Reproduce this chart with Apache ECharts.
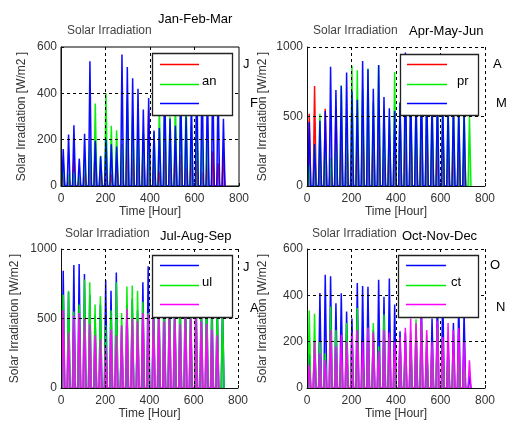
<!DOCTYPE html>
<html>
<head>
<meta charset="utf-8">
<script src="https://cdn.jsdelivr.net/npm/echarts@6/dist/echarts.min.js"></script>
<style>
  html, body { margin: 0; padding: 0; background: #fff; }
  #chart { width: 510px; height: 423px; }
</style>
</head>
<body>
<div id="chart"></div>
<script>
// Daily peak solar irradiation [W/m2], one value per day of each month
const jan = [60, 40, 134, 30, 50, 120, 184, 60, 90, 50, 100, 180, 200, 120, 140, 220, 330, 100, 60, 170, 120, 177, 134, 80, 150, 110, 60, 120, 150, 98, 140];
const feb = [100, 50, 60, 40, 120, 180, 356, 130, 400, 260, 241, 180, 370, 300, 270, 230, 200, 234, 340, 400, 300, 380, 420, 400, 260, 330, 240, 200];
const mar = [160, 222, 262, 118, 225, 538, 195, 128, 200, 180, 170, 568, 514, 465, 420, 330, 380, 240, 250, 470, 290, 260, 420, 300, 380, 490, 520, 450, 500, 430, 290];

const apr = [520, 720, 250, 555, 200, 550, 300, 420, 270, 350, 450, 300, 400, 500, 200, 350, 400, 550, 400, 500, 300, 450, 350, 400, 300, 450, 200, 350, 300, 250];
const may = [150, 300, 520, 260, 200, 300, 725, 500, 865, 833, 700, 845, 600, 868, 550, 500, 820, 600, 700, 650, 600, 580, 700, 600, 650, 550, 620, 580, 540, 600, 500];
const jun = [460, 302, 470, 540, 858, 690, 720, 817, 680, 620, 900, 840, 700, 870, 640, 560, 540, 600, 960, 700, 650, 800, 720, 620, 680, 600, 550, 620, 560, 520];

const jul = [844, 690, 884, 892, 820, 670, 520, 600, 776, 700, 830, 450, 600, 640, 560, 760, 875, 700, 650, 800, 720, 650, 700, 780, 600, 720, 680, 750, 700, 640, 620];
const aug = [670, 700, 550, 600, 780, 760, 600, 660, 450, 560, 760, 540, 730, 738, 700, 620, 540, 600, 700, 650, 700, 600, 650, 700, 620, 680, 600, 650, 560, 600, 560];
const sep = [560, 400, 520, 540, 500, 460, 380, 350, 300, 420, 380, 450, 570, 500, 480, 540, 530, 500, 540, 480, 520, 500, 460, 520, 500, 540, 480, 460, 420, 380];

const oct = [150, 200, 410, 489, 482, 366, 409, 330, 300, 453, 440, 437, 250, 467, 394, 473, 360, 245, 240, 200, 250, 380, 180, 300, 400, 420, 200, 280, 380, 330, 50];
const nov = [335, 320, 200, 150, 352, 250, 120, 280, 200, 345, 100, 260, 280, 180, 317, 220, 150, 200, 180, 240, 297, 273, 230, 180, 259, 200, 170, 140, 160, 100];
const dec = [100, 200, 150, 120, 250, 180, 230, 200, 240, 250, 200, 260, 240, 160, 250, 240, 200, 220, 260, 300, 280, 300, 250, 200, 290, 220, 280, 250, 260, 200, 120];

// Axis ranges
const hourMax = 800, hourStep = 200;
const irrMax = [600, 1000, 1000, 600];
const irrStep = [200, 500, 500, 200];
const quarterNames = ['Jan-Feb-Mar', 'Apr-May-Jun', 'Jul-Aug-Sep', 'Oct-Nov-Dec'];

// Hour offsets within a day: sunrise, noon peak, sunset
const SUNRISE = 4, NOON = 10, SUNSET = 17;

function hourly(peaks) {
  const pts = [];
  peaks.forEach((p, d) => {
    pts.push([24 * d + SUNRISE, 0], [24 * d + NOON, p], [24 * d + SUNSET, 0]);
  });
  return pts;
}

const FONT = "'Liberation Sans', Arial, Helvetica, sans-serif";
const RED = '#ff0000', GREEN = '#00ee00', BLUE = '#0000ff', MAGENTA = '#ff00ff';

const panels = [
  { grid: { left: 61, top: 47, width: 178, height: 139 }, months: [jan, feb, mar], colors: [RED, GREEN, BLUE], nameGap: 33, box: true },
  { grid: { left: 307, top: 47, width: 178, height: 139 }, months: [apr, may, jun], colors: [RED, GREEN, BLUE], nameGap: 38, box: false },
  { grid: { left: 61, top: 249, width: 177, height: 139 }, months: [jul, aug, sep], colors: [BLUE, GREEN, MAGENTA], nameGap: 40, box: false },
  { grid: { left: 307, top: 249, width: 178, height: 139 }, months: [oct, nov, dec], colors: [BLUE, GREEN, MAGENTA], nameGap: 38, box: false }
];

const gridDash = { color: '#000', width: 1, type: [3, 3] };

const grids = [], xAxes = [], yAxes = [], series = [];
panels.forEach((p, i) => {
  grids.push(Object.assign({
    show: p.box, borderColor: '#000', borderWidth: 1, backgroundColor: '#fff'
  }, p.grid));
  xAxes.push({
    type: 'value', gridIndex: i, min: 0, max: hourMax, interval: hourStep, z: 5,
    name: 'Time [Hour]', nameLocation: 'middle', nameGap: 20,
    nameTextStyle: { fontFamily: FONT, fontSize: 12, color: '#333' },
    axisLine: { show: true, onZero: false, lineStyle: { color: '#111', width: 1 } },
    axisTick: { show: true, inside: true, length: 3, lineStyle: { color: '#111' } },
    axisLabel: { fontFamily: FONT, fontSize: 12, color: '#333', margin: 7, formatter: v => String(v) },
    splitLine: { show: true, showMinLine: false, showMaxLine: !p.box, lineStyle: gridDash }
  });
  yAxes.push({
    type: 'value', gridIndex: i, min: 0, max: irrMax[i], interval: irrStep[i], z: 5,
    name: 'Solar Irradiation [W/m2 ]', nameLocation: 'middle', nameGap: p.nameGap,
    nameTextStyle: { fontFamily: FONT, fontSize: 12, color: '#333' },
    axisLine: { show: true, onZero: false, lineStyle: { color: '#111', width: 1 } },
    axisTick: { show: true, inside: true, length: 3, lineStyle: { color: '#111' } },
    axisLabel: { fontFamily: FONT, fontSize: 12, color: '#333', margin: 4, formatter: v => String(v) },
    splitLine: { show: true, showMinLine: false, showMaxLine: !p.box, lineStyle: gridDash }
  });
  p.months.forEach((m, k) => {
    series.push({
      type: 'line', xAxisIndex: i, yAxisIndex: i,
      data: hourly(m), symbol: 'none', showSymbol: false, silent: true,
      clip: true,
      lineStyle: { color: p.colors[k], width: 1.5, opacity: 0.95 },
      areaStyle: { color: p.colors[k], opacity: 0.35 },
      z: 2
    });
  });
});

// Text and legend boxes
function txt(text, x, y, opts) {
  return Object.assign({
    type: 'text', x: x, y: y, z: 100,
    style: Object.assign({
      text: text, fontFamily: FONT, fontSize: 12, fill: '#000',
      textAlign: 'left', textVerticalAlign: 'middle', align: 'left', verticalAlign: 'middle'
    }, opts || {})
  });
}
function legendBox(x, y, w, h, colors, lx1, lx2, ly, label, lblX, lblY) {
  const els = [{
    type: 'rect', z: 100,
    shape: { x: x + 0.5, y: y + 0.5, width: w, height: h },
    style: { fill: '#fff', stroke: '#222', lineWidth: 1.3 }
  }];
  colors.forEach((c, k) => {
    els.push({
      type: 'line', z: 101,
      shape: { x1: lx1, y1: ly[k] + 0.5, x2: lx2, y2: ly[k] + 0.5 },
      style: { stroke: c, lineWidth: 1.5 }
    });
  });
  els.push(txt(label, lblX, lblY, { fontSize: 13 }));
  return els;
}

const graphics = [].concat(
  // upper left
  [txt('Solar Irradiation', 67, 31, { fill: '#444' }),
   txt(quarterNames[0], 158, 19, { fontSize: 13 })],
  legendBox(152, 53, 80, 62, panels[0].colors, 160, 199, [64, 84, 103], 'an', 202, 81),
  [txt('J', 243, 64, { fontSize: 13 }), txt('F', 250, 103, { fontSize: 13 })],
  // upper right
  [txt('Solar Irradiation', 313, 31, { fill: '#444' }),
   txt(quarterNames[1], 409, 31, { fontSize: 13 })],
  legendBox(400, 54, 78, 61, panels[1].colors, 407, 447, [64, 84, 103], 'pr', 457, 81),
  [txt('A', 493, 64, { fontSize: 13 }), txt('M', 496, 103, { fontSize: 13 })],
  // lower left
  [txt('Solar Irradiation', 65, 234, { fill: '#444' }),
   txt(quarterNames[2], 160, 236, { fontSize: 13 })],
  legendBox(152, 255, 80, 62, panels[2].colors, 160, 199, [265, 285, 304], 'ul', 202, 282),
  [txt('J', 243, 267, { fontSize: 13 }), txt('A', 250, 308, { fontSize: 13 })],
  // lower right
  [txt('Solar Irradiation', 312, 234, { fill: '#444' }),
   txt(quarterNames[3], 402, 236, { fontSize: 13 })],
  legendBox(398, 255, 80, 62, panels[3].colors, 406, 446, [265, 285, 304], 'ct', 451, 282),
  [txt('O', 490, 265, { fontSize: 13 }), txt('N', 496, 307, { fontSize: 13 })]
);

const chart = echarts.init(document.getElementById('chart'), null, { renderer: 'canvas' });
chart.setOption({
  animation: false,
  backgroundColor: '#fff',
  grid: grids,
  xAxis: xAxes,
  yAxis: yAxes,
  series: series,
  graphic: { elements: graphics }
});
</script>
</body>
</html>
